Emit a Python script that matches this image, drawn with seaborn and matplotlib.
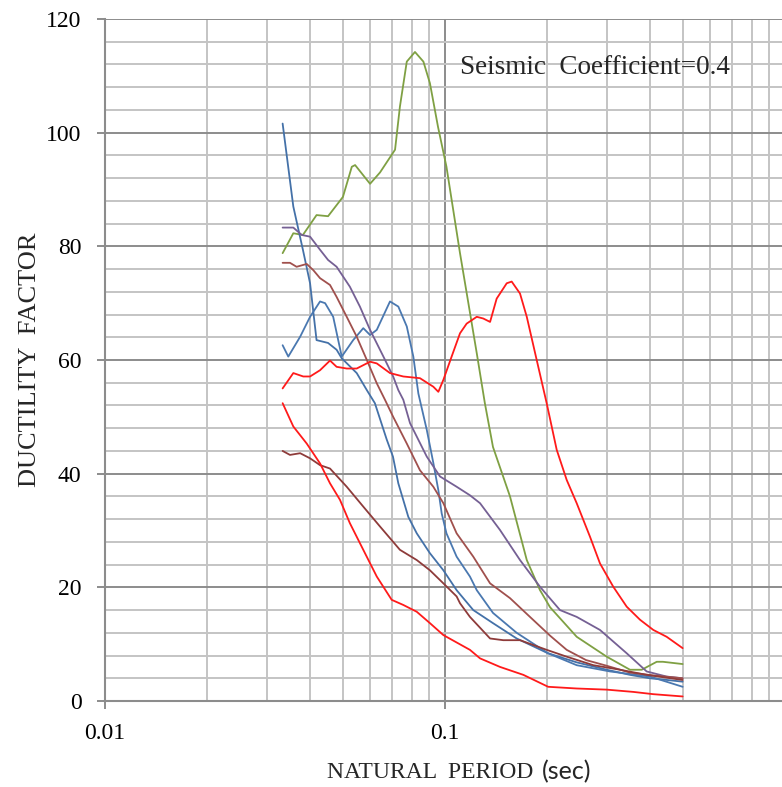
import pandas as pd
import matplotlib
matplotlib.use("Agg")
import matplotlib.pyplot as plt
import matplotlib.ticker as mtick
import seaborn as sns

# curves (period in sec, ductility factor)
green_T = [0.0333, 0.0358, 0.0382, 0.0419, 0.0453, 0.0501, 0.0532, 0.0544, 0.0602, 0.0644,
           0.0713, 0.0737, 0.0772, 0.0816, 0.0864, 0.0903, 0.0954, 0.101, 0.1107, 0.124,
           0.131, 0.1384, 0.1553, 0.174, 0.1903, 0.2037, 0.244, 0.299, 0.35, 0.379,
           0.4195, 0.4375, 0.5]
green_v = [78.8, 82.3, 82.0, 85.5, 85.3, 88.7, 94.0, 94.3, 91.0, 93.0,
           97.0, 104.6, 112.5, 114.2, 112.5, 108.7, 101.0, 94.0, 78.8, 61.2,
           52.4, 44.7, 36.0, 24.8, 19.5, 16.5, 11.3, 7.8, 5.5, 5.5,
           6.9, 6.9, 6.5]

blue_a_T = [0.0333, 0.0358, 0.0382, 0.0401, 0.0419, 0.0453, 0.0480, 0.0497, 0.0550, 0.0589,
            0.0622, 0.0674, 0.0703, 0.0729, 0.0780, 0.0826, 0.0903, 0.0989, 0.1082, 0.1211,
            0.1384, 0.1625, 0.2009, 0.244, 0.299, 0.35, 0.40, 0.45, 0.5]
blue_a_v = [101.6, 87.0, 79.4, 73.5, 63.5, 63.0, 61.8, 60.3, 57.7, 54.7,
            52.4, 46.0, 43.0, 38.3, 32.4, 29.5, 26.0, 23.0, 19.5, 16.0,
            13.7, 11.0, 8.4, 6.8, 5.5, 4.6, 4.0, 3.7, 3.4]

blue_b_T = [0.0333, 0.0346, 0.0375, 0.0401, 0.0429, 0.0444, 0.0469, 0.0497, 0.0537, 0.0575,
            0.0602, 0.0630, 0.0689, 0.0729, 0.0772, 0.0807, 0.0835, 0.0884, 0.0924, 0.0956,
            0.0978, 0.101, 0.1082, 0.1184, 0.124, 0.1384, 0.1625, 0.2009, 0.244, 0.3057,
            0.4009, 0.5]
blue_b_v = [62.6, 60.6, 64.1, 67.6, 70.3, 70.0, 67.6, 60.6, 63.5, 65.6,
            64.4, 65.3, 70.3, 69.4, 65.9, 60.6, 54.1, 47.7, 41.9, 37.1,
            33.0, 29.5, 25.4, 21.9, 19.5, 15.5, 12.0, 8.4, 6.3, 5.2,
            4.3, 2.5]

purple_T = [0.0333, 0.0358, 0.0379, 0.0401, 0.0429, 0.0453, 0.0480, 0.0525, 0.0562, 0.0602,
            0.0659, 0.0704, 0.0729, 0.0754, 0.0789, 0.0884, 0.0967, 0.1082, 0.1184, 0.1268,
            0.1451, 0.1662, 0.1903, 0.2179, 0.244, 0.2857, 0.3423, 0.3919, 0.4487, 0.5]
purple_v = [83.3, 83.3, 82.0, 81.7, 79.4, 77.6, 76.4, 72.9, 69.4, 65.3,
            60.6, 57.1, 54.7, 53.0, 48.9, 43.0, 39.5, 37.7, 36.2, 34.8,
            30.1, 24.8, 20.1, 16.0, 14.8, 12.5, 8.4, 5.2, 4.3, 4.0]

brown_a_T = [0.0333, 0.0350, 0.0366, 0.0392, 0.0410, 0.0429, 0.0459, 0.0480, 0.0514, 0.0550,
             0.0589, 0.0630, 0.0666, 0.0704, 0.0772, 0.0844, 0.0924, 0.0989, 0.1082, 0.1211,
             0.1357, 0.1553, 0.1778, 0.2037, 0.2280, 0.26, 0.299, 0.35, 0.41, 0.5]
brown_a_v = [77.1, 77.1, 76.4, 76.9, 75.8, 74.4, 73.2, 71.1, 67.6, 64.1,
             60.0, 55.9, 53.0, 50.0, 45.3, 40.6, 37.7, 34.8, 29.5, 25.4,
             20.7, 18.1, 14.8, 11.5, 9.0, 7.2, 6.2, 5.0, 4.5, 4.0]

brown_b_T = [0.0333, 0.0350, 0.0375, 0.0401, 0.0429, 0.0459, 0.0514, 0.0575, 0.0644, 0.0737,
             0.0826, 0.0903, 0.0989, 0.1082, 0.1107, 0.1184, 0.1357, 0.1484, 0.1662, 0.1991,
             0.2280, 0.2731, 0.3271, 0.3919, 0.5]
brown_b_v = [44.0, 43.3, 43.6, 42.7, 41.5, 40.9, 37.7, 34.2, 30.7, 26.6,
             24.8, 23.0, 20.7, 18.4, 17.2, 14.8, 11.0, 10.7, 10.7, 9.0,
             7.8, 6.3, 5.5, 4.6, 3.7]

red_a_T = [0.0333, 0.0358, 0.0383, 0.0401, 0.0429, 0.0459, 0.0480, 0.0514, 0.0550, 0.0602,
           0.0630, 0.0689, 0.0754, 0.0844, 0.0924, 0.0956, 0.0989, 0.1046, 0.1107, 0.1158,
           0.1240, 0.1296, 0.1357, 0.1419, 0.1519, 0.1571, 0.1662, 0.1740, 0.1861, 0.1991,
           0.2131, 0.2280, 0.2440, 0.2670, 0.2857, 0.3126, 0.3423, 0.3746, 0.41, 0.4487, 0.5]
red_a_v = [55.0, 57.7, 57.1, 57.1, 58.2, 59.9, 58.8, 58.5, 58.5, 59.7,
           59.4, 57.7, 57.1, 56.8, 55.3, 54.4, 56.5, 60.6, 64.7, 66.4,
           67.6, 67.3, 66.7, 70.8, 73.5, 73.8, 71.7, 67.6, 60.0, 52.4,
           44.2, 38.9, 34.8, 28.9, 24.2, 20.1, 16.6, 14.3, 12.5, 11.3, 9.3]

red_b_T = [0.0333, 0.0358, 0.0392, 0.0429, 0.0459, 0.0491, 0.0525, 0.0575, 0.0630, 0.0697,
           0.0754, 0.0826, 0.0903, 0.0989, 0.1082, 0.1184, 0.1268, 0.1451, 0.1700, 0.2011,
           0.2440, 0.299, 0.358, 0.41, 0.5]
red_b_v = [52.4, 48.3, 45.3, 41.8, 38.3, 35.4, 31.3, 26.6, 21.9, 17.8,
           16.9, 15.7, 13.7, 11.6, 10.3, 9.0, 7.5, 6.0, 4.6, 2.5,
           2.2, 2.0, 1.6, 1.2, 0.8]

curvas = {
    'green': (green_T, green_v),
    'blue_a': (blue_a_T, blue_a_v),
    'blue_b': (blue_b_T, blue_b_v),
    'purple': (purple_T, purple_v),
    'brown_a': (brown_a_T, brown_a_v),
    'brown_b': (brown_b_T, brown_b_v),
    'red_a': (red_a_T, red_a_v),
    'red_b': (red_b_T, red_b_v),
}
cores = {
    'green': '#7FA043',
    'blue_a': '#4471A8',
    'blue_b': '#4A78B0',
    'purple': '#756094',
    'brown_a': '#A0504D',
    'brown_b': '#8E3B3A',
    'red_a': '#FF1A1A',
    'red_b': '#FF1A1A',
}

linhas = []
for nome, (tt, vv) in curvas.items():
    for t, v in zip(tt, vv):
        linhas.append({'periodo': t, 'ductilidade': v, 'serie': nome})
df = pd.DataFrame(linhas)

sns.set_theme(style="white")
plt.rcParams['font.family'] = ['Liberation Serif', 'DejaVu Serif']

W, H = 782, 787
fig = plt.figure(figsize=(W / 100, H / 100), dpi=100)
ax = fig.add_axes([105 / W, 86 / H, 1 - 105 / W, (768 - 86) / H])

sns.lineplot(data=df, x='periodo', y='ductilidade', hue='serie', palette=cores,
             legend=False, linewidth=1.3, ax=ax, estimator=None, sort=False)

ax.set_xscale('log')
ax.set_xlim(0.01, 0.98)
ax.set_ylim(0, 120)
ax.xaxis.set_major_locator(mtick.FixedLocator([0.01, 0.1, 1]))
ax.xaxis.set_minor_locator(mtick.LogLocator(base=10, subs=range(2, 10)))
ax.xaxis.set_major_formatter(mtick.FuncFormatter(lambda v, p: f'{v:g}'))
ax.xaxis.set_minor_formatter(mtick.NullFormatter())
ax.yaxis.set_major_locator(mtick.MultipleLocator(20))
ax.yaxis.set_minor_locator(mtick.MultipleLocator(4))

ax.grid(which='major', color='#8C8C8C', linewidth=1.4)
ax.grid(which='minor', color='#C4C4C4', linewidth=1.4)
ax.set_axisbelow(True)

for lado in ['top', 'right']:
    ax.spines[lado].set_visible(False)
for lado in ['left', 'bottom']:
    ax.spines[lado].set_color('#8C8C8C')
    ax.spines[lado].set_linewidth(1.5)

ax.tick_params(which='major', direction='out', length=6, width=1.4, color='#8C8C8C',
               labelsize=17, labelcolor='black')
ax.tick_params(axis='y', which='major', pad=11, left=True)
ax.tick_params(axis='x', which='major', pad=10, bottom=True)
ax.tick_params(which='minor', length=0)

ax.set_xlabel('')
ax.set_ylabel('DUCTILITY  FACTOR', fontsize=19)
ax.yaxis.set_label_coords((30 - 105) / 677, 0.5)
ax.yaxis.label.set_va('center')

fig.text(327 / W, 1 - 772 / H, 'NATURAL  PERIOD', fontsize=17, ha='left', va='center')
fig.text(542 / W, 1 - 772 / H, '(sec)', fontsize=18, ha='left', va='center',
         family=['Lato', 'DejaVu Sans'])

ax.text((460 - 105) / 677, (701 - 68) / 682, 'Seismic  Coefficient=0.4', fontsize=19.5,
        transform=ax.transAxes, ha='left', va='center')

fig.savefig('out.png', dpi=100)
